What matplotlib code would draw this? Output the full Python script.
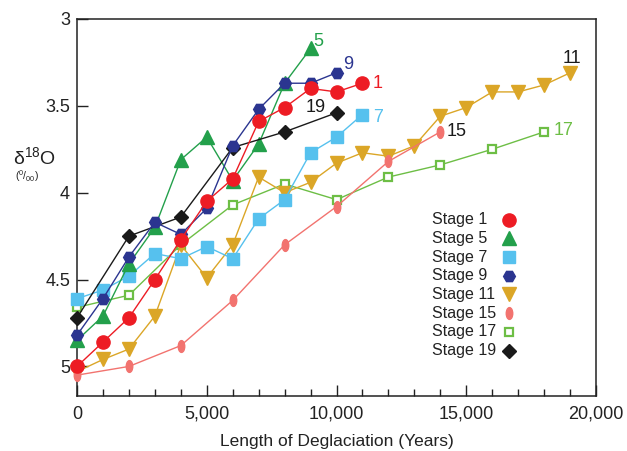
import matplotlib
matplotlib.use("Agg")
import matplotlib.pyplot as plt
from matplotlib.path import Path
from matplotlib.transforms import Affine2D
from matplotlib.ticker import FuncFormatter, MultipleLocator

plt.rcParams['font.family'] = ['Liberation Sans', 'DejaVu Sans']
plt.rcParams['mathtext.fontset'] = 'custom'
plt.rcParams['mathtext.rm'] = 'Liberation Sans'

# Deglaciation time (years) and benthic d18O for each marine isotope stage
stage1_x = [0, 1000, 2000, 3000, 4000, 5000, 6000, 7000, 8000, 9000, 10000, 11000]
stage1_y = [5.00, 4.86, 4.72, 4.50, 4.27, 4.05, 3.92, 3.59, 3.51, 3.40, 3.42, 3.37]

stage5_x = [0, 1000, 2000, 3000, 4000, 5000, 6000, 7000, 8000, 9000]
stage5_y = [4.85, 4.71, 4.41, 4.20, 3.81, 3.68, 3.93, 3.72, 3.37, 3.17]

stage7_x = [0, 1000, 2000, 3000, 4000, 5000, 6000, 7000, 8000, 9000, 10000, 11000]
stage7_y = [4.61, 4.56, 4.48, 4.35, 4.38, 4.31, 4.38, 4.15, 4.04, 3.77, 3.68, 3.55]

stage9_x = [0, 1000, 2000, 3000, 4000, 5000, 6000, 7000, 8000, 9000, 10000]
stage9_y = [4.82, 4.61, 4.37, 4.17, 4.24, 4.09, 3.73, 3.52, 3.37, 3.37, 3.31]

stage11_x = [0, 1000, 2000, 3000, 4000, 5000, 6000, 7000, 8000, 9000,
             10000, 11000, 12000, 13000, 14000, 15000, 16000, 17000, 18000, 19000]
stage11_y = [5.03, 4.96, 4.90, 4.71, 4.30, 4.49, 4.30, 3.91, 4.00, 3.94,
             3.83, 3.77, 3.79, 3.73, 3.56, 3.51, 3.42, 3.42, 3.38, 3.31]

stage15_x = [0, 2000, 4000, 6000, 8000, 10000, 12000, 14000]
stage15_y = [5.05, 5.00, 4.88, 4.62, 4.30, 4.08, 3.82, 3.65]

stage17_x = [0, 2000, 4000, 6000, 8000, 10000, 12000, 14000, 16000, 18000]
stage17_y = [4.66, 4.59, 4.30, 4.07, 3.95, 4.04, 3.91, 3.84, 3.75, 3.65]

stage19_x = [0, 2000, 4000, 6000, 8000, 10000]
stage19_y = [4.72, 4.25, 4.14, 3.74, 3.65, 3.54]

legend_labels = ['Stage 1', 'Stage 5', 'Stage 7', 'Stage 9',
                 'Stage 11', 'Stage 15', 'Stage 17', 'Stage 19']

RED = '#ED1C24'
GREEN = '#23A04B'
LBLUE = '#56C1EE'
NAVY = '#2B3590'
GOLD = '#DBA627'
SALMON = '#F2736F'
LGREEN = '#6DBE45'
BLACK = '#1A1A1A'
INK = '#222222'

ellipse = Path.unit_circle().transformed(Affine2D().scale(0.55, 1.0))

styles = {
    'Stage 1': dict(color=RED, marker='o', ms=9.5, mfc=RED, mec=RED),
    'Stage 5': dict(color=GREEN, marker='^', ms=9.5, mfc=GREEN, mec=GREEN),
    'Stage 7': dict(color=LBLUE, marker='s', ms=8, mfc=LBLUE, mec=LBLUE),
    'Stage 9': dict(color=NAVY, marker='H', ms=8.5, mfc=NAVY, mec=NAVY),
    'Stage 11': dict(color=GOLD, marker='v', ms=9.5, mfc=GOLD, mec=GOLD),
    'Stage 15': dict(color=SALMON, marker=ellipse, ms=8.5, mfc=SALMON, mec=SALMON),
    'Stage 17': dict(color=LGREEN, marker='s', ms=5.5, mfc='white', mec=LGREEN, mew=1.6),
    'Stage 19': dict(color=BLACK, marker='D', ms=7.5, mfc=BLACK, mec=BLACK),
}

series = {
    'Stage 1': (stage1_x, stage1_y),
    'Stage 5': (stage5_x, stage5_y),
    'Stage 7': (stage7_x, stage7_y),
    'Stage 9': (stage9_x, stage9_y),
    'Stage 11': (stage11_x, stage11_y),
    'Stage 15': (stage15_x, stage15_y),
    'Stage 17': (stage17_x, stage17_y),
    'Stage 19': (stage19_x, stage19_y),
}

fig = plt.figure(figsize=(6.27, 4.51), dpi=100)
ax = fig.add_axes([0.1228, 0.122, 0.8278, 0.836])

draw_order = ['Stage 17', 'Stage 11', 'Stage 15', 'Stage 7',
              'Stage 5', 'Stage 19', 'Stage 9', 'Stage 1']
for z, name in enumerate(draw_order):
    xs, ys = series[name]
    ax.plot(xs, ys, lw=1.0, zorder=3 + z, clip_on=False, **styles[name])

# labels at the end of each curve
end_text = [
    ('5', 9100, 3.13, GREEN),
    ('9', 10250, 3.26, NAVY),
    ('1', 11400, 3.37, RED),
    ('19', 8800, 3.51, BLACK),
    ('7', 11400, 3.565, LBLUE),
    ('15', 14250, 3.65, BLACK),
    ('11', 18700, 3.23, BLACK),
    ('17', 18350, 3.64, LGREEN),
]
for txt, x, y, c in end_text:
    ax.text(x, y, txt, color=c, fontsize=13, ha='left', va='center', zorder=20)

ax.set_xlim(0, 20000)
ax.set_ylim(5.17, 3.0)

ax.xaxis.set_major_locator(MultipleLocator(5000))
ax.xaxis.set_minor_locator(MultipleLocator(1000))
ax.yaxis.set_major_locator(MultipleLocator(0.5))
ax.xaxis.set_major_formatter(FuncFormatter(lambda v, p: f'{int(v):,}'))
ax.yaxis.set_major_formatter(FuncFormatter(lambda v, p: f'{v:g}'))
ax.tick_params(axis='both', which='major', direction='in', length=8, width=1,
               labelsize=13, color=INK, labelcolor=INK)
ax.tick_params(axis='x', which='minor', direction='in', length=5, width=1, color=INK)
ax.tick_params(axis='x', which='major', pad=7)
ax.tick_params(axis='y', which='major', pad=5)
for s in ax.spines.values():
    s.set_linewidth(1.1)
    s.set_color(INK)

ax.set_xlabel('Length of Deglaciation (Years)', fontsize=12.5, color=INK, labelpad=8)

fig.text(34 / 627, 1 - 158 / 451, r'δ$^{\mathregular{18}}$O', fontsize=14,
         ha='center', va='center', color=INK)
fig.text(27 / 627, 1 - 176 / 451, r'($^{\mathregular{0}}$/$_{\mathregular{00}}$)',
         fontsize=7.5, ha='center', va='center', color=INK)

# key: left-aligned names with a column of symbols to their right
key_text_x = 0.684
key_mark_x = 0.832
key_top = 0.468
key_step = 0.0497
for i, name in enumerate(legend_labels):
    y = key_top - i * key_step
    ax.text(key_text_x, y, name, transform=ax.transAxes, fontsize=11.5,
            ha='left', va='center', color=INK, zorder=20)
    st = {k: v for k, v in styles[name].items() if k != 'color'}
    ax.plot([key_mark_x], [y], transform=ax.transAxes, linestyle='none',
            clip_on=False, zorder=20, **st)

fig.savefig('out.png', dpi=100)
